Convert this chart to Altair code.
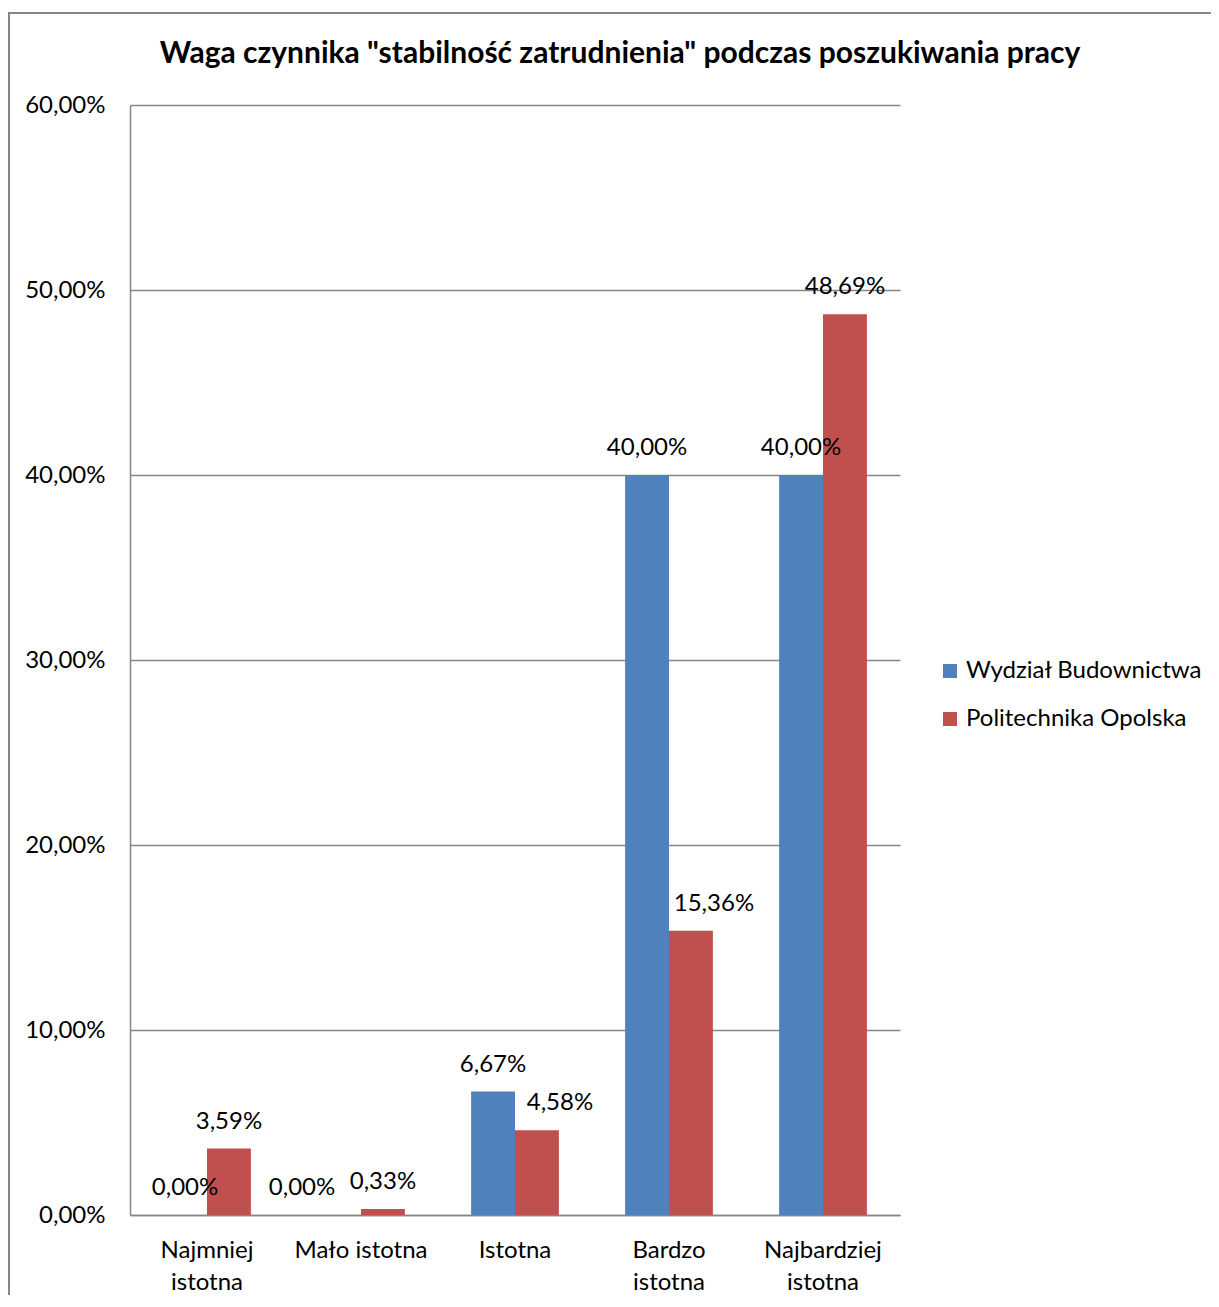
import altair as alt
import pandas as pd

categories = ["Najmniej istotna", "Mało istotna", "Istotna", "Bardzo istotna", "Najbardziej istotna"]
series = ["Wydział Budownictwa", "Politechnika Opolska"]
wydzial = [0.0, 0.0, 0.0667, 0.40, 0.40]
politechnika = [0.0359, 0.0033, 0.0458, 0.1536, 0.4869]
colors = ["#4F81BD", "#C0504D"]

rows = []
for i, c in enumerate(categories):
    rows.append({"cat": c, "series": series[0], "value": wydzial[i]})
    rows.append({"cat": c, "series": series[1], "value": politechnika[i]})
df = pd.DataFrame(rows)

FONT = "Lato"
GRID = "#868686"
FS = 24

x_enc = alt.X("cat:N", sort=categories, title=None,
              scale=alt.Scale(paddingInner=0.43, paddingOuter=0.215),
              axis=alt.Axis(labelAngle=0, labelFontSize=FS, labelFont=FONT, labelColor="black",
                            labelLineHeight=32, labelPadding=23, ticks=False,
                            domainColor=GRID, domainWidth=1.5, labelLimit=300,
                            labelExpr="datum.label == 'Mało istotna' ? datum.label : split(datum.label, ' ')"))
xo_enc = alt.XOffset("series:N", sort=series)

base = alt.Chart(df)

bars = base.mark_bar().encode(
    x=x_enc,
    xOffset=xo_enc,
    y=alt.Y("value:Q", title=None,
            scale=alt.Scale(domain=[0, 0.6]),
            axis=alt.Axis(values=[0, 0.1, 0.2, 0.3, 0.4, 0.5, 0.6], ticks=False,
                          labelFontSize=FS, labelFont=FONT, labelColor="black", labelPadding=25,
                          gridColor=GRID, gridWidth=1.5, domainColor=GRID, domainWidth=1.5,
                          labelExpr="replace(format(datum.value, '.2%'), '.', ',')")),
    color=alt.Color("series:N", sort=series,
                    scale=alt.Scale(domain=series, range=colors),
                    legend=alt.Legend(title=None, orient="none", legendX=808, legendY=554,
                                      symbolType="square", symbolSize=196, symbolStrokeWidth=0,
                                      labelFontSize=FS, labelFont=FONT, labelColor="black",
                                      rowPadding=24, labelOffset=4, labelLimit=400)),
)

lab_base = base.transform_calculate(
    label="replace(format(datum.value, '.2%'), '.', ',')",
    shift="(datum.cat == 'Mało istotna' && datum.series == 'Wydział Budownictwa') ? -1 : "
          "((datum.series == 'Politechnika Opolska' && (datum.cat == 'Istotna' || datum.cat == 'Bardzo istotna')) ? 1 : 0)",
)
lab_enc = dict(x=alt.X("cat:N", sort=categories), xOffset=xo_enc, y="value:Q", text="label:N")
txt = dict(fontSize=FS, font=FONT, color="black", baseline="middle", dy=-27)

labels = lab_base.transform_filter("datum.shift == 0").mark_text(**txt).encode(**lab_enc)
labels_left = lab_base.transform_filter("datum.shift == -1").mark_text(dx=-37, **txt).encode(**lab_enc)
labels_right = lab_base.transform_filter("datum.shift == 1").mark_text(dx=23, **txt).encode(**lab_enc)

border = alt.Chart(pd.DataFrame({"a": [0]})).mark_rect(
    fill=None, stroke=GRID, strokeWidth=2
).encode(x=alt.value(-121), x2=alt.value(1400), y=alt.value(-92), y2=alt.value(1400))

chart = alt.layer(border, bars, labels, labels_left, labels_right).properties(
    width=770, height=1110,
    title=alt.Title('Waga czynnika "stabilność zatrudnienia" podczas poszukiwania pracy',
                    fontSize=30, font=FONT, fontWeight="bold", color="black",
                    anchor="middle", frame="group", dx=105, dy=57, offset=0),
    autosize=alt.AutoSizeParams(type="none"),
    padding={"left": 122, "top": 97, "right": 311, "bottom": 80},
).configure_view(stroke=None).configure_axis(grid=True).configure_axisX(grid=False)

chart.save("out.html", embed_options={"renderer": "svg", "actions": False})
